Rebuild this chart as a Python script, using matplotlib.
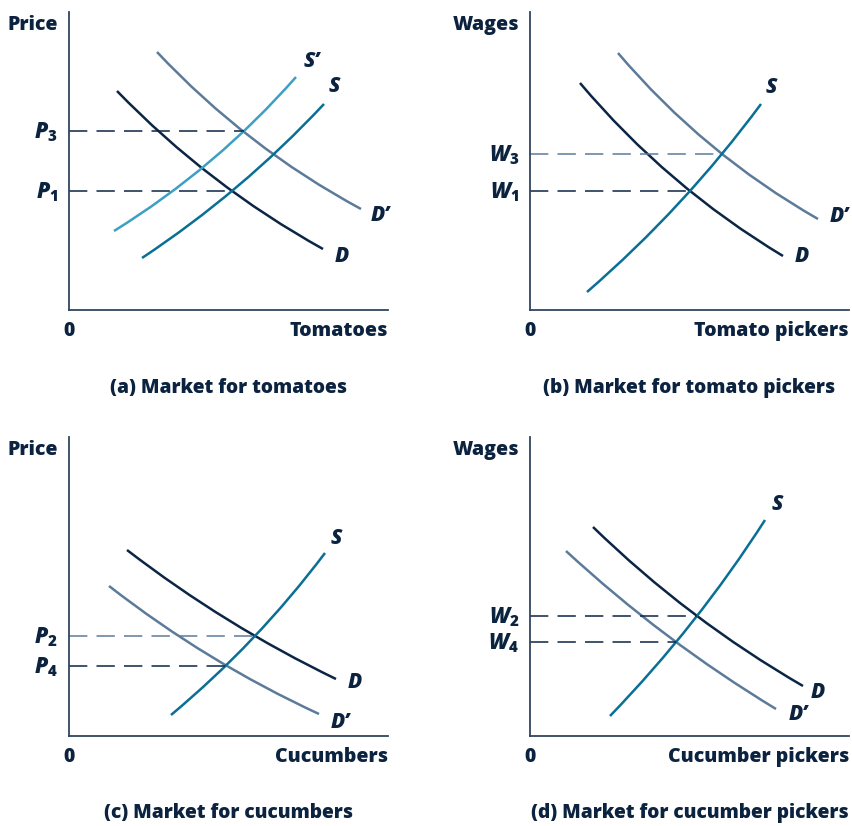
import numpy as np
import matplotlib
matplotlib.use('Agg')
import matplotlib.pyplot as plt
from matplotlib.path import Path
from matplotlib.patches import PathPatch

plt.rcParams['font.family'] = ['Open Sans', 'DejaVu Sans']
plt.rcParams['font.weight'] = 'heavy'
plt.rcParams['mathtext.fontset'] = 'custom'
plt.rcParams['mathtext.it'] = 'Open Sans:italic:heavy'
plt.rcParams['mathtext.rm'] = 'Open Sans:heavy'
plt.rcParams['mathtext.bf'] = 'Open Sans:heavy'

TXT = '#0c2340'
NAVY = '#0b2545'
SLATE = '#5c7b9a'
TEAL = '#0a6f94'
LIGHT = '#3d9fc4'
AXC = '#2f4560'

W, H = 852, 826

# curves: (start, point on curve, end) in axis units
# (a) market for tomatoes
a_D = [(48, 219), (163, 119), (254, 61)]
a_Dp = [(88, 258), (204, 156), (292, 101)]
a_S = [(73, 52), (163, 119), (255, 206)]
a_Sp = [(45, 79), (175, 179), (227, 233)]
a_levels = [('$P_{3}$', 179, 175, NAVY), ('$P_{1}$', 119, 163, NAVY)]

# (b) market for tomato pickers
b_D = [(50, 227), (160, 119), (253, 54)]
b_Dp = [(88, 257), (192, 156), (288, 91)]
b_S = [(57, 18), (160, 119), (231, 206)]
b_levels = [('$W_{3}$', 156, 192, SLATE), ('$W_{1}$', 119, 160, NAVY)]

# (c) market for cucumbers
c_D = [(58, 186), (186, 100), (267, 57)]
c_Dp = [(40, 150), (158, 70), (250, 22)]
c_S = [(102, 21), (186, 100), (256, 183)]
c_levels = [('$P_{2}$', 100, 186, SLATE), ('$P_{4}$', 70, 160, NAVY)]

# (d) market for cucumber pickers
d_D = [(63, 209), (167, 120), (273, 50)]
d_Dp = [(36, 185), (146, 94), (246, 27)]
d_S = [(80, 20), (167, 120), (235, 216)]
d_levels = [('$W_{2}$', 120, 167, NAVY), ('$W_{4}$', 94, 146, NAVY)]


def curve(ax, pts, color):
    p0, q, p2 = [np.array(p, float) for p in pts]
    ch = p2 - p0
    t = np.dot(q - p0, ch) / np.dot(ch, ch)
    c = (q - (1 - t) ** 2 * p0 - t ** 2 * p2) / (2 * t * (1 - t))
    path = Path([p0, c, p2], [Path.MOVETO, Path.CURVE3, Path.CURVE3])
    ax.add_patch(PathPatch(path, fc='none', ec=color, lw=1.8, capstyle='butt'))


def panel(left_px, top_px, right_px, bottom_px, ylabel, xlabel, title, curves, labels, levels, title_y):
    w = right_px - left_px
    h = bottom_px - top_px
    ax = fig.add_axes([left_px / W, 1 - bottom_px / H, w / W, h / H])
    ax.set_xlim(0, w)
    ax.set_ylim(0, h)
    for s in ['top', 'right']:
        ax.spines[s].set_visible(False)
    for s in ['left', 'bottom']:
        ax.spines[s].set_color(AXC)
        ax.spines[s].set_linewidth(1.3)
    ax.set_xticks([])
    ax.set_yticks([])
    for pts, col in curves:
        curve(ax, pts, col)
    for lab, y, x, col in levels:
        ax.plot([0, x], [y, y], color=col, lw=1.1, ls=(0, (12, 6)))
        ax.text(-11, y - 1, lab, ha='right', va='center', fontsize=15.5, color=TXT)
    for lab, x, y in labels:
        ax.text(x, y, lab, ha='center', va='center', fontsize=15, color=TXT,
                style='italic')
    ax.text(-11, h - 13, ylabel, ha='right', va='center', fontsize=14, color=TXT)
    ax.text(0, -21, '0', ha='center', va='center', fontsize=14, color=TXT)
    ax.text(w, -21, xlabel, ha='right', va='center', fontsize=14, color=TXT)
    fig.text((left_px + right_px) / 2 / W, 1 - title_y / H, title, ha='center', va='center',
             fontsize=13.8, color=TXT)
    return ax


fig = plt.figure(figsize=(W / 100, H / 100), dpi=100)

panel(69, 12, 388, 310, 'Price', 'Tomatoes', '(a) Market for tomatoes',
      [(a_Dp, SLATE), (a_D, NAVY), (a_Sp, LIGHT), (a_S, TEAL)],
      [("S\u2019", 243, 248), ('S', 265, 223), ("D\u2019", 311, 94), ('D', 273, 53)],
      a_levels, 388)

panel(530, 12, 849, 310, 'Wages', 'Tomato pickers', '(b) Market for tomato pickers',
      [(b_Dp, SLATE), (b_D, NAVY), (b_S, TEAL)],
      [('S', 241, 222), ("D\u2019", 309, 93), ('D', 272, 53)],
      b_levels, 388)

panel(69, 437, 388, 736, 'Price', 'Cucumbers', '(c) Market for cucumbers',
      [(c_Dp, SLATE), (c_D, NAVY), (c_S, TEAL)],
      [('S', 267, 197), ('D', 286, 53), ("D\u2019", 271, 14)],
      c_levels, 813)

panel(530, 437, 849, 736, 'Wages', 'Cucumber pickers', '(d) Market for cucumber pickers',
      [(d_Dp, SLATE), (d_D, NAVY), (d_S, TEAL)],
      [('S', 247, 232), ('D', 288, 43), ("D\u2019", 268, 21)],
      d_levels, 813)

fig.savefig('out.png', dpi=100)
